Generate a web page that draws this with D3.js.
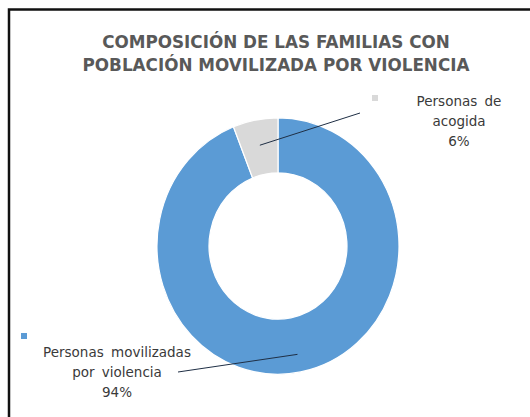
<!DOCTYPE html>
<html>
<head>
<meta charset="utf-8">
<script src="https://cdn.jsdelivr.net/npm/d3@7"></script>
<style>
  body { margin: 0; background: #fff; }
</style>
</head>
<body>
<div id="chart"></div>
<script>
// chart data
const categories = ["Personas movilizadas por violencia", "Personas de acogida"];
const values = [94, 6];
const colors = ["#5b9bd5", "#d9d9d9"];
const titleLines = ["COMPOSICIÓN DE LAS FAMILIAS CON", "POBLACIÓN MOVILIZADA POR VIOLENCIA"];

const width = 530, height = 417;

const svg = d3.select("#chart").append("svg")
    .attr("width", width)
    .attr("height", height);

// frame (left + top edge)
svg.append("path")
    .attr("d", `M9,${height} V9.5 H${width}`)
    .attr("fill", "none")
    .attr("stroke", "#111")
    .attr("stroke-width", 2.5);

// title
svg.append("g")
    .attr("font-family", "DejaVu Sans, sans-serif")
    .attr("font-weight", "bold")
    .attr("font-size", 16.8)
    .attr("fill", "#595959")
    .attr("text-anchor", "middle")
    .selectAll("text")
    .data(titleLines)
    .join("text")
    .attr("x", 276)
    .attr("y", (d, i) => 48 + i * 23)
    .text(d => d);

// donut
const cx = 278, cy = 246;
const outerR = 121, innerR = 69;

const pie = d3.pie().sort(null).value(d => d.value);
const arcs = pie(values.map((v, i) => ({ value: v, i })));
const arc = d3.arc().innerRadius(innerR).outerRadius(outerR);

const g = svg.append("g")
    .attr("transform", `translate(${cx},${cy}) scale(1,1.06)`);

g.selectAll("path")
    .data(arcs)
    .join("path")
    .attr("d", arc)
    .attr("fill", d => colors[d.data.i])
    .attr("stroke", "#fff")
    .attr("stroke-width", 1.2);

// labels
const labelPos = [
    { x: 117, y: 357, lineEnd: [178, 372], marker: [21, 333] },
    { x: 459, y: 106, lineEnd: [360, 113], marker: [372, 95] }
];
const labelText = [
    ["Personas movilizadas", "por violencia", values[0] + "%"],
    ["Personas de", "acogida", values[1] + "%"]
];
const startRadius = [outerR * 0.86, outerR * 0.8];

arcs.forEach((a, k) => {
    const p = labelPos[k];
    const mid = (a.startAngle + a.endAngle) / 2;
    const sx = cx + Math.sin(mid) * startRadius[k];
    const sy = cy - Math.cos(mid) * startRadius[k] * 1.06;

    svg.append("line")
        .attr("x1", sx).attr("y1", sy)
        .attr("x2", p.lineEnd[0]).attr("y2", p.lineEnd[1])
        .attr("stroke", "#1f2f45")
        .attr("stroke-width", 1);

    svg.append("rect")
        .attr("x", p.marker[0]).attr("y", p.marker[1])
        .attr("width", 6).attr("height", 6)
        .attr("fill", colors[k]);

    svg.append("g")
        .attr("font-family", "DejaVu Sans, sans-serif")
        .attr("font-size", 13.5)
        .attr("word-spacing", 3)
        .attr("fill", "#3a3a3a")
        .attr("text-anchor", "middle")
        .selectAll("text")
        .data(labelText[k])
        .join("text")
        .attr("x", p.x)
        .attr("y", (d, i) => p.y + i * 20)
        .text(d => d);
});
</script>
</body>
</html>
